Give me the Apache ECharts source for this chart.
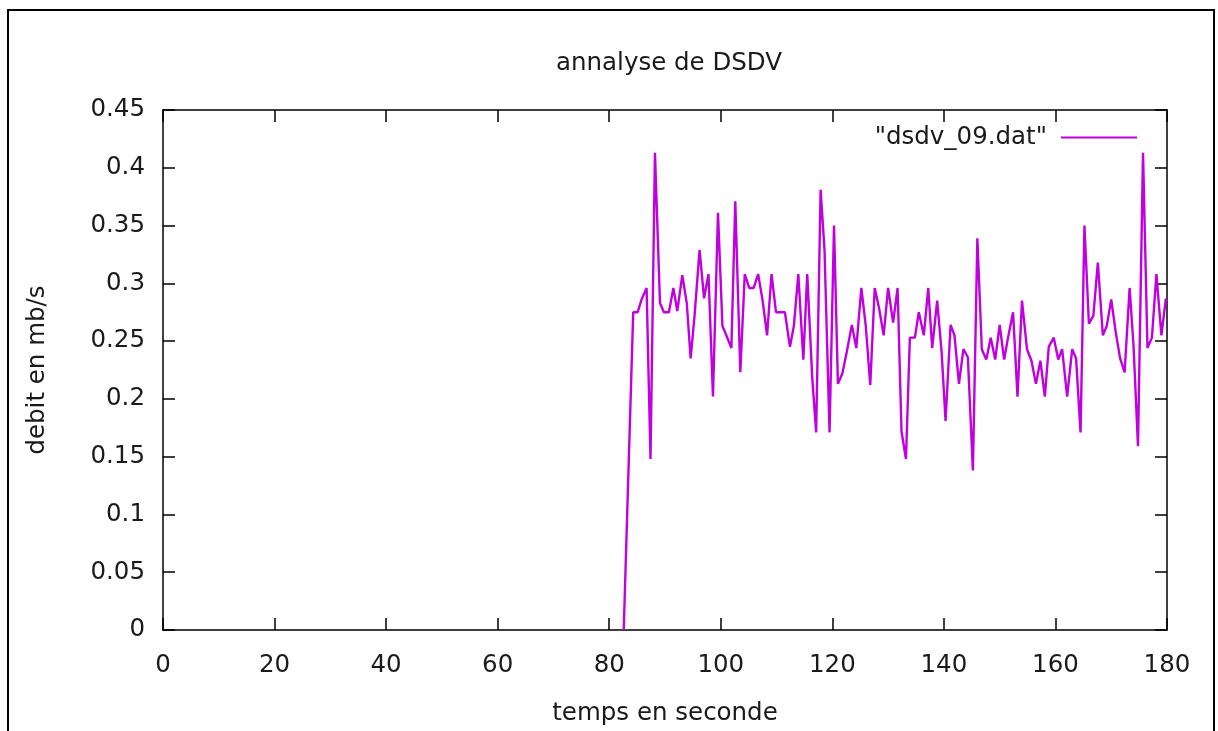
<!DOCTYPE html>
<html>
<head>
<meta charset="utf-8">
<script src="https://cdn.jsdelivr.net/npm/echarts@6/dist/echarts.min.js"></script>
<style>
  html,body{margin:0;padding:0;background:#fff;}
  #chart{width:1218px;height:731px;}
</style>
</head>
<body>
<div id="chart"></div>
<script>
// temps (s) and debit (mb/s)
var temps = [82.6, 84.3, 85.1, 85.8, 86.7, 87.4, 88.2, 89.1, 89.8, 90.7, 91.5, 92.2, 93.1, 93.9, 94.6, 95.3, 96.2, 97.0, 97.8,
  98.6, 99.5, 100.3, 101.0, 101.9, 102.6, 103.5, 104.3, 105.1, 105.9, 106.7, 107.5, 108.3, 109.1, 109.9, 110.8, 111.5, 112.4, 113.1, 113.9,
  114.8, 115.5, 116.4, 117.1, 117.9, 118.6, 119.5, 120.3, 121.0, 121.8, 122.6, 123.5, 124.3, 125.2, 126.0, 126.8, 127.6, 128.4, 129.2, 130.0,
  130.9, 131.7, 132.4, 133.2, 133.9, 134.8, 135.5, 136.4, 137.2, 137.9, 138.8, 139.6, 140.3, 141.2, 141.9, 142.7, 143.5, 144.3, 145.2, 146.0,
  146.8, 147.6, 148.4, 149.2, 150.0, 150.8, 151.5, 152.4, 153.2, 154.0, 154.9, 155.7, 156.5, 157.3, 158.1, 158.8, 159.7, 160.5, 161.2, 162.1,
  163.0, 163.7, 164.5, 165.2, 166.0, 166.8, 167.6, 168.5, 169.2, 170.0, 170.8, 171.6, 172.4, 173.3, 174.0, 174.8, 175.7, 176.5, 177.3, 178.1,
  179.0, 179.8];
var debit = [0, 0.275, 0.275, 0.286, 0.296, 0.148, 0.413, 0.283, 0.275, 0.275, 0.296, 0.276, 0.307, 0.283, 0.235, 0.272, 0.329, 0.287, 0.308,
  0.202, 0.361, 0.263, 0.255, 0.244, 0.371, 0.223, 0.308, 0.296, 0.296, 0.308, 0.285, 0.255, 0.308, 0.275, 0.275, 0.275, 0.245, 0.263, 0.308,
  0.234, 0.308, 0.218, 0.171, 0.381, 0.329, 0.171, 0.350, 0.213, 0.222, 0.241, 0.264, 0.244, 0.296, 0.263, 0.212, 0.296, 0.278, 0.255, 0.296,
  0.266, 0.296, 0.172, 0.148, 0.253, 0.253, 0.275, 0.255, 0.296, 0.244, 0.285, 0.240, 0.181, 0.264, 0.255, 0.213, 0.243, 0.236, 0.138, 0.339,
  0.243, 0.234, 0.253, 0.234, 0.264, 0.234, 0.253, 0.275, 0.202, 0.285, 0.243, 0.233, 0.213, 0.233, 0.202, 0.245, 0.253, 0.234, 0.243, 0.202,
  0.243, 0.235, 0.171, 0.350, 0.265, 0.272, 0.318, 0.255, 0.263, 0.286, 0.258, 0.235, 0.223, 0.296, 0.246, 0.159, 0.413, 0.244, 0.253, 0.308,
  0.255, 0.287];

var serieName = '"dsdv_09.dat"';
var fontName = 'DejaVu Sans';
var ink = '#1a1a1a';
var fs = 24.5;

var points = temps.map(function (t, i) { return [t, debit[i]]; });

var chart = echarts.init(document.getElementById('chart'));

var tickStyle = {show: true, inside: true, length: 12, lineStyle: {color: '#000', width: 1.5}};
var lineStyle = {show: true, onZero: false, lineStyle: {color: '#000', width: 1.5}};

var option = {
  backgroundColor: '#fff',
  animation: false,
  textStyle: {fontFamily: fontName},
  title: {
    // gnuplot centres the title over the plot area, not the page
    text: 'annalyse de DSDV',
    left: 551,
    top: 46,
    textStyle: {fontFamily: fontName, fontWeight: 'normal', fontSize: fs, color: ink}
  },
  legend: {
    data: [serieName],
    right: 76,
    top: 120,
    align: 'right',
    icon: 'rect',
    itemWidth: 76,
    itemHeight: 2,
    textStyle: {fontFamily: fontName, fontSize: fs, color: ink, padding: [0, 9, 0, 0]}
  },
  graphic: [{
    type: 'rect',
    shape: {x: 8, y: 10, width: 1206, height: 760},
    style: {fill: 'none', stroke: '#000', lineWidth: 2},
    silent: true
  }],
  grid: {left: 163, top: 110, width: 1004, height: 526},
  xAxis: [{
    type: 'value',
    min: 0, max: 180, interval: 20,
    name: 'temps en seconde',
    nameLocation: 'middle',
    nameGap: 71,
    nameTextStyle: {fontFamily: fontName, fontSize: fs, color: ink},
    axisLine: lineStyle,
    axisTick: tickStyle,
    axisLabel: {fontFamily: fontName, fontSize: fs, color: ink, margin: 23},
    splitLine: {show: false}
  }, {
    type: 'value',
    position: 'top',
    min: 0, max: 180, interval: 20,
    axisLine: lineStyle,
    axisTick: tickStyle,
    axisLabel: {show: false},
    splitLine: {show: false}
  }],
  yAxis: [{
    type: 'value',
    min: 0, max: 0.45, interval: 0.05,
    name: 'debit en mb/s',
    nameLocation: 'middle',
    nameGap: 113,
    nameTextStyle: {fontFamily: fontName, fontSize: fs, color: ink},
    axisLine: lineStyle,
    axisTick: tickStyle,
    axisLabel: {fontFamily: fontName, fontSize: fs, color: ink, margin: 18},
    splitLine: {show: false}
  }, {
    type: 'value',
    position: 'right',
    min: 0, max: 0.45, interval: 0.05,
    axisLine: lineStyle,
    axisTick: tickStyle,
    axisLabel: {show: false},
    splitLine: {show: false}
  }],
  series: [{
    name: serieName,
    type: 'line',
    data: points,
    showSymbol: false,
    symbol: 'none',
    color: '#c000e0',
    lineStyle: {width: 2.4, color: '#c000e0'}
  }]
};

chart.setOption(option);
</script>
</body>
</html>
